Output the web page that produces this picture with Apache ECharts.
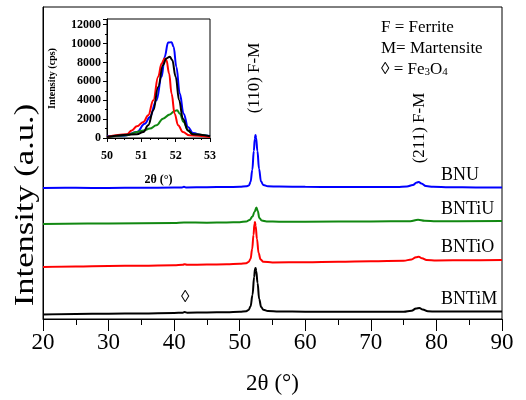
<html style="height: 100%">
<head>
	<meta charset="utf-8">
	<script type="text/javascript" src="https://cdn.jsdelivr.net/npm/echarts@6/dist/echarts.min.js"></script>
</head>

<body style="height: 100%; margin: 0; background: #fff">
	<div id="container" style="height:400px;width:526px"></div>
</body>

<script type="text/javascript">
	var dom = document.getElementById("container");
	var myChart = echarts.init(dom);

	var serif = 'Liberation Serif';

	// main pattern, intensities stacked with offset (a.u.)
	let bnuMain = [[20,131],[25,131.2],[30,131],[35,131.3],[40,131.4],[41.2,131.6],[41.5,132.3],[41.8,131.6],[45,131.8],[48,132],[50,132.2],[51,132.7],[51.4,133.5],[51.65,137],[51.92,149],[52.15,168],[52.3,180],[52.4,184],[52.5,181],[52.7,168],[52.95,150],[53.25,137.5],[53.6,134],[54.3,132.8],[56,132.4],[60,132.2],[65,132],[70,132],[74,132.1],[75.5,132.5],[76.4,134],[77,136.5],[77.3,137],[77.7,135.5],[78.4,133],[79.5,132.2],[82,131.8],[86,131.6],[90,131.5]];
	let bntiuMain = [[20,95],[30,95.5],[40,96],[41.5,96.5],[45,96.3],[48,96.5],[50,96.8],[51,97.5],[51.5,99],[51.95,102.5],[52.25,107],[52.55,111.5],[52.75,108],[53,101],[53.35,98.5],[54.1,97.6],[56,97.3],[60,97.3],[70,97.6],[76,97.8],[77.2,99.2],[78.2,98.2],[80,97.8],[90,98]];
	let bntioMain = [[20,52],[25,52.5],[30,53],[35,53.3],[40,53.8],[41.3,54.2],[41.6,54.8],[42,54.2],[45,54.4],[48,54.8],[50,55.2],[51,55.8],[51.35,57],[51.65,60],[51.9,70],[52.1,84],[52.25,95],[52.33,97],[52.43,93],[52.63,80],[52.88,66],[53.18,59.5],[53.6,57.3],[55,56.5],[60,56.8],[65,57.3],[70,57.8],[75,58.3],[76.2,59.5],[76.9,61.8],[77.3,62.3],[77.8,60.8],[78.5,59],[80,58.6],[85,58.8],[90,59]];
	let bntimMain = [[20,4.5],[25,5],[30,5.3],[35,5.6],[40,6],[41.3,6.3],[41.6,7],[42,6.3],[45,6.5],[48,6.8],[50,7.2],[51,7.8],[51.35,9],[51.65,12.5],[51.95,24],[52.2,42],[52.33,50],[52.42,51],[52.52,48],[52.72,36],[52.97,20],[53.27,12],[53.6,9.3],[54.3,8],[56,7.5],[60,7.3],[70,7.2],[75,7.3],[76.2,8.3],[76.9,10.5],[77.4,11],[77.9,9.6],[78.7,7.8],[80,7.4],[90,7.4]];

	// inset, (110) peak in cps
	let bnuInset = [[50,180],[50.5,250],[50.87,640],[51.1,1500],[51.25,2230],[51.44,4000],[51.59,6480],[51.68,8600],[51.78,10100],[51.88,10150],[51.94,9660],[52.02,7540],[52.12,4700],[52.23,2580],[52.36,1170],[52.5,530],[52.79,280],[53,210]];
	let bntiuInset = [[50,100],[50.58,280],[50.87,640],[51.06,800],[51.25,1000],[51.44,1350],[51.63,2050],[51.83,2500],[51.97,2870],[52.04,2940],[52.12,2580],[52.23,1700],[52.36,800],[52.5,390],[53,180]];
	let bntioInset = [[50,100],[50.58,390],[50.72,800],[50.87,1240],[51.06,1700],[51.2,2400],[51.35,4000],[51.49,6480],[51.59,7900],[51.68,8430],[51.73,8250],[51.81,6830],[51.88,4700],[51.97,2580],[52.07,1350],[52.21,640],[52.4,280],[53,100]];
	let bntimInset = [[50,100],[50.87,390],[51.06,640],[51.2,1350],[51.35,2940],[51.49,5400],[51.63,7700],[51.73,8430],[51.83,8600],[51.9,8250],[52,6480],[52.1,4000],[52.21,2050],[52.36,800],[52.5,390],[53,180]];

	let sampleNames = ['BNU', 'BNTiU', 'BNTiO', 'BNTiM'];
	let sampleColors = ['#0000ff', '#118811', '#ff0000', '#000000'];
	let mainData = [bnuMain, bntiuMain, bntioMain, bntimMain];
	let insetData = [bnuInset, bntiuInset, bntioInset, bntimInset];
	let sampleLabelY = [176, 210, 248, 300];

	let series = [];
	mainData.forEach(function (d, i) {
		series.push({
			name: sampleNames[i], type: 'line', xAxisIndex: 0, yAxisIndex: 0,
			data: d, symbol: 'none', smooth: 0.4, smoothMonotone: 'x',
			lineStyle: { color: sampleColors[i], width: 2 }, silent: true
		});
	});
	insetData.forEach(function (d, i) {
		series.push({
			name: sampleNames[i] + ' inset', type: 'line', xAxisIndex: 1, yAxisIndex: 1,
			data: d, symbol: 'none', smooth: 0.4, smoothMonotone: 'x',
			lineStyle: { color: sampleColors[i], width: 2 }, silent: true, z: 5
		});
	});

	let graphics = sampleNames.map(function (n, i) {
		return { type: 'text', left: 441, top: sampleLabelY[i] - 10, style: { text: n, font: '18px ' + serif, fill: '#000' } };
	});
	graphics.push(
		{ type: 'text', x: 26, y: 205, rotation: Math.PI / 2, scaleX: 1.28, style: { text: 'Intensity (a.u.)', font: '27px ' + serif, fill: '#000', align: 'center', verticalAlign: 'middle' } },
		{ type: 'text', x: 255, y: 78, rotation: Math.PI / 2, style: { text: '(110) F-M', font: '17px ' + serif, fill: '#000', align: 'center', verticalAlign: 'middle' } },
		{ type: 'text', x: 420, y: 128, rotation: Math.PI / 2, style: { text: '(211) F-M', font: '17px ' + serif, fill: '#000', align: 'center', verticalAlign: 'middle' } },
		{ type: 'text', left: 181, top: 289, style: { text: '\u25CA', font: '17px ' + serif, fill: '#000' } },
		{ type: 'text', left: 381, top: 19, style: { text: 'F = Ferrite', font: '17px ' + serif, fill: '#000' } },
		{ type: 'text', left: 381, top: 40, style: { text: 'M= Martensite', font: '17px ' + serif, fill: '#000' } },
		{
			type: 'text', left: 381, top: 61, style: {
				text: '{a|\u25CA = Fe}{s|3}{a|O}{s|4}', fill: '#000',
				rich: { a: { font: '17px ' + serif, verticalAlign: 'bottom' }, s: { font: '11px ' + serif, verticalAlign: 'bottom' } }
			}
		},
		{ type: 'text', x: 170, y: 33, style: { text: '(110)', font: 'bold 15px ' + serif, fill: '#000', align: 'center', verticalAlign: 'middle' } }
	);

	var option = {
		animation: false,
		backgroundColor: '#fff',
		grid: [
			{ left: 43, right: 24, top: 7, bottom: 81, show: true, borderColor: '#000', borderWidth: 1 },
			{ left: 107, right: 316, top: 19, bottom: 262, show: true, borderColor: '#000', borderWidth: 1, backgroundColor: '#fff', z: 3 }
		],
		xAxis: [
			{
				gridIndex: 0, type: 'value', min: 20, max: 90, interval: 10,
				name: '2\u03B8 (\u00B0)', nameLocation: 'middle', nameGap: 53,
				nameTextStyle: { fontFamily: serif, fontSize: 23, color: '#000' },
				axisLine: { lineStyle: { color: '#000', width: 1 } },
				axisTick: { length: 12, lineStyle: { color: '#000' } },
				minorTick: { show: true, splitNumber: 2, length: 6, lineStyle: { color: '#000' } },
				axisLabel: { fontFamily: serif, fontSize: 23, color: '#000', margin: 12 },
				splitLine: { show: false }
			},
			{
				gridIndex: 1, type: 'value', min: 50, max: 53, interval: 1,
				name: '2\u03B8 (\u00B0)', nameLocation: 'middle', nameGap: 36,
				nameTextStyle: { fontFamily: serif, fontSize: 12, fontWeight: 'bold', color: '#000' },
				axisLine: { lineStyle: { color: '#000', width: 1 } },
				axisTick: { length: 4, lineStyle: { color: '#000' } },
				minorTick: { show: true, splitNumber: 4, length: 2, lineStyle: { color: '#000' } },
				axisLabel: { fontFamily: serif, fontSize: 12, fontWeight: 'bold', color: '#000', margin: 12 },
				splitLine: { show: false }, z: 4
			}
		],
		yAxis: [
			{
				gridIndex: 0, type: 'value', min: 0, max: 312,
				axisLine: { show: true, lineStyle: { color: '#000', width: 1 } },
				axisTick: { show: false }, axisLabel: { show: false }, splitLine: { show: false }
			},
			{
				gridIndex: 1, type: 'value', min: 0, max: 12600, interval: 2000,
				name: 'Intensity (cps)', nameLocation: 'middle', nameGap: 50,
				nameTextStyle: { fontFamily: serif, fontSize: 10, fontWeight: 'bold', color: '#000' },
				axisLine: { show: true, lineStyle: { color: '#000', width: 1 } },
				axisTick: { length: 4, lineStyle: { color: '#000' } },
				minorTick: { show: true, splitNumber: 2, length: 2, lineStyle: { color: '#000' } },
				axisLabel: {
					fontFamily: serif, fontSize: 12, fontWeight: 'bold', color: '#000', margin: 6,
					formatter: function (v) { return v % 2000 === 0 ? '' + v : ''; }
				},
				splitLine: { show: false }, z: 4
			}
		],
		graphic: graphics,
		series: series
	};

	myChart.setOption(option);
</script>

</html>
